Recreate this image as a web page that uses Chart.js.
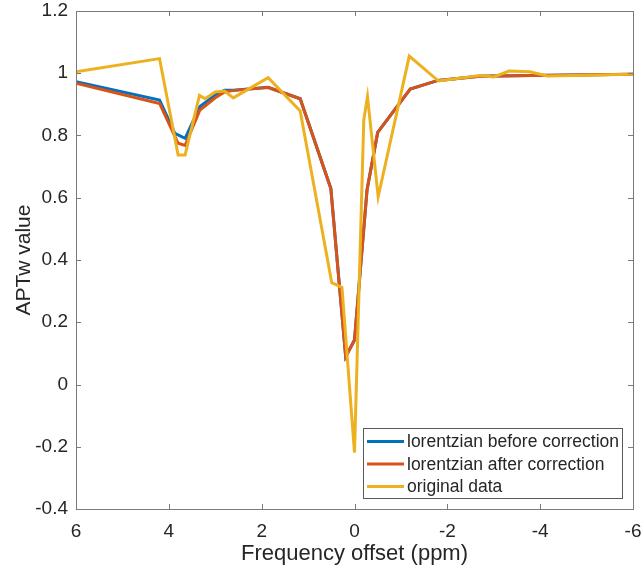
<!DOCTYPE html>
<html lang="en">
<head>
  <meta charset="UTF-8" />
  <title>APTw Z-spectrum</title>
  <script src="https://cdn.jsdelivr.net/npm/chart.js"></script>
  <style>
    body { margin: 0; background: #fff; }
    #wrap { width: 641px; height: 573px; }
  </style>
</head>
<body>
  <div id="wrap"><canvas id="zChart" width="641" height="573"></canvas></div>

<script>
  // offsets (ppm) and values
  const beforeX = [6, 4.2, 3.87, 3.65, 3.33, 3.0, 2.8, 2.6, 1.86, 1.17, 0.51, 0.19, 0.0, -0.27, -0.5, -1.2, -1.8, -2.7, -3.8, -6];
  const beforeY = [0.973, 0.914, 0.807, 0.791, 0.893, 0.93, 0.945, 0.945, 0.955, 0.918, 0.63, 0.089, 0.143, 0.625, 0.81, 0.949, 0.977, 0.99, 0.993, 0.997];

  const afterX = [6, 4.2, 3.8, 3.65, 3.33, 3.0, 2.8, 2.6, 1.86, 1.17, 0.51, 0.19, 0.0, -0.27, -0.5, -1.2, -1.8, -2.7, -3.8, -6];
  const afterY = [0.968, 0.903, 0.775, 0.768, 0.882, 0.921, 0.94, 0.945, 0.954, 0.918, 0.63, 0.089, 0.143, 0.625, 0.81, 0.949, 0.977, 0.99, 0.993, 0.997];

  const origX = [6, 4.2, 3.8, 3.65, 3.34, 3.22, 3.0, 2.8, 2.61, 1.86, 1.17, 0.49, 0.27, 0.0, -0.2, -0.28, -0.51, -1.18, -1.81, -2.7, -3.0, -3.33, -3.78, -4.15, -6];
  const origY = [1.005, 1.047, 0.737, 0.737, 0.929, 0.918, 0.94, 0.943, 0.921, 0.986, 0.879, 0.327, 0.312, -0.219, 0.85, 0.925, 0.603, 1.055, 0.975, 0.993, 0.988, 1.007, 1.005, 0.991, 0.997];

  const seriesNames = ["lorentzian before correction", "lorentzian after correction", "original data"];
  const seriesColors = ["#0072BD", "#D95319", "#EDB120"];

  const xTicks = [6, 4, 2, 0, -2, -4, -6];

  const toPoints = (xs, ys) => xs.map((x, i) => ({ x: x, y: ys[i] }));

  const AXIS_COLOR = "#7a7a7a";
  const TEXT_COLOR = "#262626";
  const FONT = "'Liberation Sans', Arial, sans-serif";

  // MATLAB-like box with inward ticks, plus the legend inside the axes
  const matlabAxes = {
    id: "matlabAxes",
    afterDraw(chart) {
      const { ctx, chartArea: a, scales } = chart;
      const tl = 5;
      ctx.save();
      ctx.strokeStyle = AXIS_COLOR;
      ctx.lineWidth = 1;
      ctx.strokeRect(a.left + 0.5, a.top + 0.5, a.right - a.left, a.bottom - a.top);
      ctx.beginPath();
      scales.x.ticks.forEach(t => {
        const px = Math.round(scales.x.getPixelForValue(t.value)) + 0.5;
        ctx.moveTo(px, a.bottom); ctx.lineTo(px, a.bottom - tl);
        ctx.moveTo(px, a.top); ctx.lineTo(px, a.top + tl);
      });
      scales.y.ticks.forEach(t => {
        const py = Math.round(scales.y.getPixelForValue(t.value)) + 0.5;
        ctx.moveTo(a.left, py); ctx.lineTo(a.left + tl, py);
        ctx.moveTo(a.right, py); ctx.lineTo(a.right - tl, py);
      });
      ctx.stroke();

      // legend
      const lx = 363, ly = 428, lw = 259, lh = 70;
      ctx.fillStyle = "#fff";
      ctx.fillRect(lx, ly, lw, lh);
      ctx.strokeStyle = "#5a5a5a";
      ctx.strokeRect(lx + 0.5, ly + 0.5, lw, lh);
      ctx.font = "17.5px " + FONT;
      ctx.textBaseline = "middle";
      chart.data.datasets.forEach((ds, i) => {
        const y = ly + 13.5 + i * 22.5;
        ctx.strokeStyle = ds.borderColor;
        ctx.lineWidth = 3;
        ctx.beginPath();
        ctx.moveTo(lx + 4, y); ctx.lineTo(lx + 41, y);
        ctx.stroke();
        ctx.fillStyle = TEXT_COLOR;
        ctx.fillText(ds.label, lx + 44, y + 1);
      });
      ctx.restore();
    }
  };

  new Chart(document.getElementById("zChart"), {
    type: "line",
    data: {
      datasets: [
        { label: seriesNames[0], data: toPoints(beforeX, beforeY), borderColor: seriesColors[0], order: 3 },
        { label: seriesNames[1], data: toPoints(afterX, afterY), borderColor: seriesColors[1], order: 2 },
        { label: seriesNames[2], data: toPoints(origX, origY), borderColor: seriesColors[2], order: 1 }
      ]
    },
    options: {
      responsive: false,
      animation: false,
      layout: { padding: { top: 11, right: 8, left: 0, bottom: 0 } },
      elements: {
        line: { borderWidth: 3, tension: 0, fill: false, borderJoinStyle: "miter" },
        point: { radius: 0 }
      },
      plugins: {
        legend: { display: false },
        tooltip: { enabled: false }
      },
      scales: {
        x: {
          type: "linear",
          reverse: true,
          min: -6,
          max: 6,
          afterBuildTicks: s => { s.ticks = xTicks.map(v => ({ value: v })); },
          afterFit: s => { s.height = 64; s.paddingLeft = 0; s.paddingRight = 0; },
          grid: { display: false, drawTicks: false },
          border: { display: false },
          ticks: { color: TEXT_COLOR, font: { family: FONT, size: 19 }, padding: 11, maxRotation: 0 },
          title: { display: true, text: "Frequency offset (ppm)", color: TEXT_COLOR, font: { family: FONT, size: 22 }, padding: { top: 0, bottom: 6 } }
        },
        y: {
          min: -0.4,
          max: 1.2,
          afterFit: s => { s.width = 76; s.paddingTop = 0; s.paddingBottom = 0; },
          grid: { display: false, drawTicks: false },
          border: { display: false },
          ticks: {
            stepSize: 0.2,
            color: TEXT_COLOR,
            font: { family: FONT, size: 19 },
            padding: 8,
            callback: v => String(Number(v.toFixed(1)))
          },
          title: { display: true, text: "APTw value", color: TEXT_COLOR, font: { family: FONT, size: 21 }, padding: { top: 12, bottom: 0 } }
        }
      }
    },
    plugins: [matlabAxes]
  });
</script>
</body>
</html>
